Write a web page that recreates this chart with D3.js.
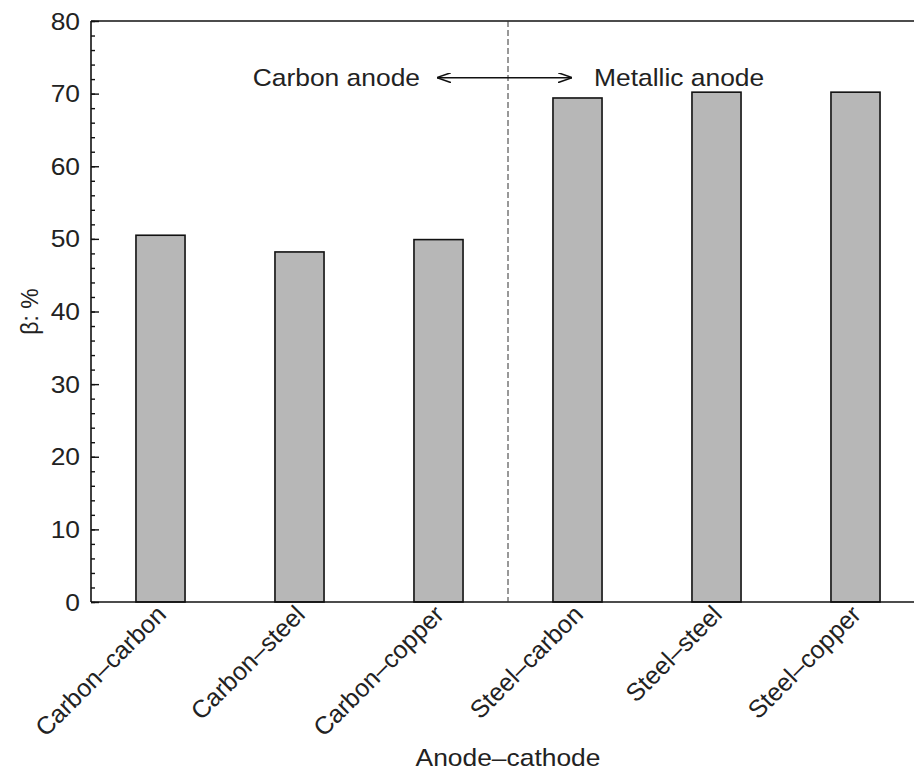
<!DOCTYPE html>
<html><head><meta charset="utf-8">
<script src="https://cdn.jsdelivr.net/npm/d3@7"></script>
<style>body{margin:0;background:#fff}svg{display:block}text{font-family:"Liberation Sans",Arial,sans-serif;fill:#222}</style>
</head><body><div id="chart"></div>
<script>
const categories = ["Carbon–carbon","Carbon–steel","Carbon–copper","Steel–carbon","Steel–steel","Steel–copper"];
const values = [50.5, 48.2, 49.9, 69.4, 70.2, 70.2];
const yTicks = [0,10,20,30,40,50,60,70,80];
const yMinorTicks = d3.range(0, 81, 2);
const groupLabels = ["Carbon anode","Metallic anode"];
const xTitle = "Anode–cathode";
const yTitle = "β: %";

const W = 914, H = 773;
const m = {left: 91, top: 21, right: -11, bottom: 171};
const FS = 24;
const SX = 1.1; // horizontal stretch of the reference lettering
const svg = d3.select("#chart").append("svg").attr("width", W).attr("height", H);
const iw = W - m.left - m.right, ih = H - m.top - m.bottom;
const g = svg.append("g").attr("transform", `translate(${m.left},${m.top})`);

const x = d3.scaleBand().domain(categories).range([0, iw]).paddingInner(0.647).paddingOuter(0.3235);
const y = d3.scaleLinear().domain([0, 80]).range([ih, 0]);

// bars
g.selectAll("rect.bar").data(values).join("rect").attr("class","bar")
  .attr("x", (d,i) => x(categories[i])).attr("width", x.bandwidth())
  .attr("y", d => y(d)).attr("height", d => ih - y(d))
  .attr("fill", "#b7b7b7").attr("stroke", "#111").attr("stroke-width", 1.6);

// frame
g.append("line").attr("x1",0).attr("x2",iw).attr("y1",0).attr("y2",0).attr("stroke","#111").attr("stroke-width",1.6);
g.append("line").attr("x1",0).attr("x2",iw).attr("y1",ih).attr("y2",ih).attr("stroke","#111").attr("stroke-width",1.6);

// y axis (inward ticks)
const ya = g.append("g").call(d3.axisRight(y).tickValues(yMinorTicks).tickSize(4).tickFormat(""));
ya.select(".domain").remove();
ya.selectAll("line").attr("stroke","#111").attr("stroke-width",1.4);
const yb = g.append("g").call(d3.axisRight(y).tickValues(yTicks).tickSize(8).tickFormat(d3.format("d")));
yb.select(".domain").attr("stroke","#111").attr("stroke-width",1.6).attr("d", `M0,0V${ih}`);
yb.selectAll("line").attr("stroke","#111").attr("stroke-width",1.4);
yb.selectAll("text").attr("x", null).attr("dy", null)
  .attr("transform", "translate(-11,8) scale(1.1,1)")
  .attr("text-anchor","end").attr("font-size", FS).attr("fill","#222")
  .style("font-family","Liberation Sans, Arial, sans-serif");

// divider
const xDiv = x(categories[3]) - x.step()*x.paddingInner()/2;
g.append("line").attr("x1", xDiv).attr("x2", xDiv).attr("y1", 0).attr("y2", ih)
  .attr("stroke","#333").attr("stroke-width",1).attr("stroke-dasharray","6,3");

// arrow
const defs = svg.append("defs");
defs.append("marker").attr("id","ah").attr("viewBox","0 0 14 10").attr("refX",14).attr("refY",5)
  .attr("markerWidth",14).attr("markerHeight",10).attr("markerUnits","userSpaceOnUse").attr("orient","auto-start-reverse")
  .append("path").attr("d","M0,0 L14,5 L0,10").attr("fill","none").attr("stroke","#111").attr("stroke-width",1.5);
const ay = y(72.2);
g.append("line").attr("x1", xDiv-71).attr("x2", xDiv+64).attr("y1", ay).attr("y2", ay)
  .attr("stroke","#111").attr("stroke-width",1.5).attr("marker-start","url(#ah)").attr("marker-end","url(#ah)");
g.append("text").attr("transform", `translate(${xDiv-88},${ay+8}) scale(${SX},1)`).attr("text-anchor","end").attr("font-size",FS).text(groupLabels[0]);
g.append("text").attr("transform", `translate(${xDiv+86},${ay+8}) scale(${SX},1)`).attr("text-anchor","start").attr("font-size",FS).text(groupLabels[1]);

// x labels
g.selectAll("text.xl").data(categories).join("text").attr("class","xl")
  .attr("transform", d => `translate(${x(d)+x.bandwidth()/2+7},${ih+14}) rotate(-45)`)
  .attr("text-anchor","end").attr("font-size",FS+1).text(d => d);

svg.append("text").attr("transform", `translate(508,766) scale(${SX},1)`).attr("text-anchor","middle").attr("font-size",FS).text(xTitle);
svg.append("text").attr("transform", `translate(38,${m.top+ih/2}) rotate(-90)`).attr("text-anchor","middle").attr("font-size",FS-1).text(yTitle);
</script></body></html>
